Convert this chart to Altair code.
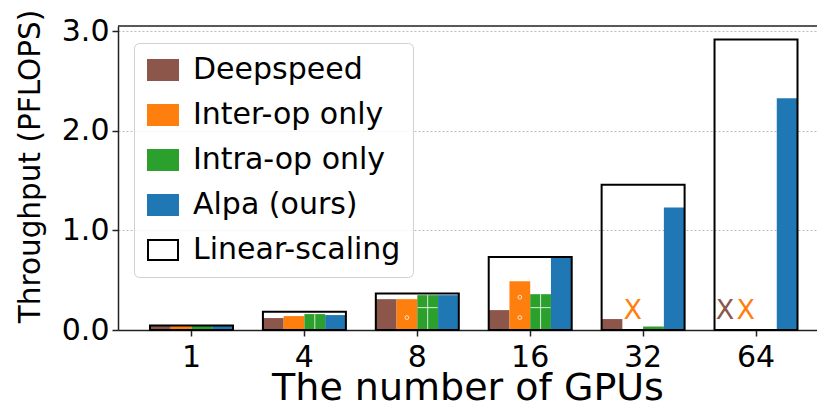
import altair as alt
import pandas as pd

gpus = ["1", "4", "8", "16", "32", "64"]
series = ["Deepspeed", "Inter-op only", "Intra-op only", "Alpa (ours)"]
deepspeed = [0.04, 0.12, 0.31, 0.20, 0.11, None]
inter_op = [0.04, 0.14, 0.31, 0.49, None, None]
intra_op = [0.04, 0.16, 0.35, 0.36, 0.035, None]
alpa = [0.046, 0.15, 0.35, 0.73, 1.23, 2.33]
linear = [0.046, 0.183, 0.367, 0.733, 1.46, 2.92]
failed_gpus = ["32", "64", "64"]
failed_series = ["Inter-op only", "Deepspeed", "Inter-op only"]
colors = ["#8c564b", "#ff7f0e", "#2ca02c", "#1f77b4"]
# hatch pattern rows (value levels of the hatch grid)
orange_hatch_levels = [0.125, 0.33]
green_hatch_levels = [0.225]

legend_domain = series + ["Linear-scaling"]
fill_range = colors + ["transparent"]
stroke_range = colors + ["black"]

rows = []
for name, vals in zip(series, [deepspeed, inter_op, intra_op, alpa]):
    for g, v in zip(gpus, vals):
        rows.append({"gpus": g, "series": name, "value": v})
bars_df = pd.DataFrame(rows)
lin_df = pd.DataFrame({"gpus": gpus, "series": "Linear-scaling", "value": linear})
fail_df = pd.DataFrame({"gpus": failed_gpus, "series": failed_series, "value": 0.0})

green_df = pd.DataFrame([{"gpus": g, "series": "Intra-op only", "value": v}
                         for g, v in zip(gpus, intra_op) if v is not None and v > 0.1])
green_h = pd.DataFrame([{"gpus": g, "series": "Intra-op only", "value": lv}
                        for g, v in zip(gpus, intra_op) if v is not None
                        for lv in green_hatch_levels if lv < v - 0.02])
orange_pts = pd.DataFrame([{"gpus": g, "series": "Inter-op only", "value": lv}
                           for g, v in zip(gpus, inter_op) if v is not None and v > 0.1
                           for lv in orange_hatch_levels if lv < v - 0.03])

W, H = 699, 304
FONT = "DejaVu Sans"

x_enc = alt.X(
    "gpus:N", sort=gpus,
    scale=alt.Scale(domain=gpus, paddingInner=0, paddingOuter=0.0956, align=0.79),
    axis=alt.Axis(title="The number of GPUs", labelAngle=0, labelFontSize=30,
                  titleFontSize=38, tickSize=6, labelPadding=6, titlePadding=-3, grid=False),
)
xoff_enc = alt.XOffset("series:N", scale=alt.Scale(domain=series, paddingOuter=0.72, paddingInner=0))
y_enc = alt.Y(
    "value:Q",
    scale=alt.Scale(domain=[0, 3.055], nice=False, zero=True),
    axis=alt.Axis(title="Throughput (PFLOPS)", values=[0, 1, 2, 3], format=".1f",
                  labelFontSize=30, titleFontSize=29.5, tickSize=6, labelPadding=3,
                  titlePadding=16, titleY=140, grid=True, gridDash=[2, 2],
                  gridColor="#bbbbbb", gridWidth=1),
)
leg = alt.Legend(title=None)
fill_enc = alt.Fill("series:N", scale=alt.Scale(domain=legend_domain, range=fill_range), legend=leg)
stroke_enc = alt.Stroke("series:N", scale=alt.Scale(domain=legend_domain, range=stroke_range), legend=leg)

bars = alt.Chart(bars_df).mark_bar(strokeWidth=0).encode(
    x=x_enc, xOffset=xoff_enc, y=y_enc, fill=fill_enc, stroke=stroke_enc
)
green_v = alt.Chart(green_df).mark_rule(color="white", strokeWidth=1, opacity=0.8).encode(
    x=x_enc, xOffset=xoff_enc, y=y_enc, y2=alt.datum(0)
)
green_hz = alt.Chart(green_h).mark_tick(color="white", thickness=1, size=20, opacity=0.8).encode(
    x=x_enc, xOffset=xoff_enc, y=y_enc
)
orange_c = alt.Chart(orange_pts).mark_point(shape="circle", filled=False, color="white",
                                            size=14, strokeWidth=1, opacity=0.8).encode(
    x=x_enc, xOffset=xoff_enc, y=y_enc
)
boxes = alt.Chart(lin_df).mark_bar(width=alt.RelativeBandSize(0.735), strokeWidth=2).encode(
    x=x_enc, y=y_enc, fill=fill_enc, stroke=stroke_enc
)
fails = alt.Chart(fail_df).mark_text(text="X", fontSize=27, font=FONT, baseline="bottom", dy=-5).encode(
    x=x_enc, xOffset=xoff_enc, y=y_enc, fill=fill_enc
)
top = alt.Chart(pd.DataFrame({"a": [0]})).mark_rule(color="#222222", strokeWidth=1.5).encode(
    x=alt.value(0), x2=alt.value(W), y=alt.value(0)
)

chart = alt.layer(bars, green_v, green_hz, orange_c, boxes, fails, top).properties(
    width=W, height=H,
    autosize=alt.AutoSizeParams(type="none"),
    padding={"left": 110, "top": 18, "right": 0, "bottom": 77},
).configure_view(stroke=None).configure_axis(
    labelFont=FONT, titleFont=FONT, labelColor="black", titleColor="black",
    titleFontWeight="normal", domainColor="#222222", domainWidth=1.5,
    tickColor="#222222", tickWidth=1.5,
).configure_legend(
    orient="none", legendX=16, legendY=17, padding=12,
    symbolType="M-1.5,-1H1.5V1H-1.5Z", symbolSize=400, symbolStrokeWidth=2,
    symbolOffset=2, labelFontSize=30, labelFont=FONT, labelColor="black",
    labelOffset=15, labelLimit=0, rowPadding=15,
    strokeColor="#d0d0d0", fillColor="rgba(255,255,255,0.8)", cornerRadius=5,
)

chart.save("out.html", embed_options={"renderer": "svg", "actions": False})
